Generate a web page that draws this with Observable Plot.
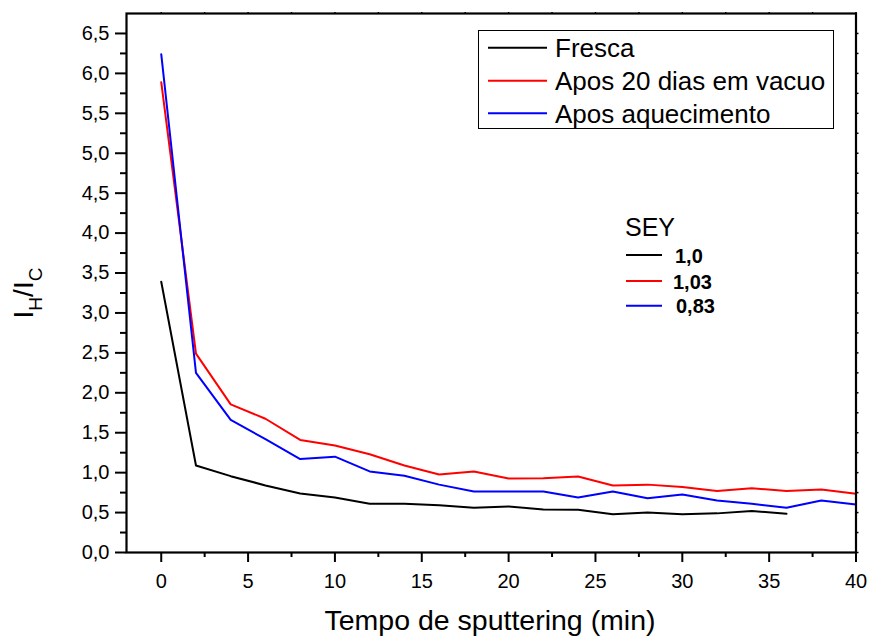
<!DOCTYPE html>
<html><head><meta charset="utf-8">
<script src="https://cdn.jsdelivr.net/npm/d3@7"></script>
<script src="https://cdn.jsdelivr.net/npm/@observablehq/plot@0.6"></script>
<style>body{margin:0;background:#fff} svg{display:block}</style>
</head><body><div id="chart"></div>
<script>
// Sputtering time (min)
const time = [0,2,4,6,8,10,12,14,16,18,20,22,24,26,28,30,32,34,36,38,40];
// I_H / I_C for each sample
const fresca = [3.39,1.09,0.956,0.84,0.74,0.69,0.61,0.61,0.593,0.56,0.576,0.54,0.535,0.48,0.50,0.48,0.49,0.52,0.485];
const vacuo  = [5.89,2.49,1.855,1.675,1.41,1.34,1.23,1.09,0.977,1.015,0.927,0.93,0.952,0.84,0.85,0.82,0.77,0.806,0.77,0.79,0.735];
const aquec  = [6.24,2.25,1.66,1.42,1.17,1.20,1.015,0.96,0.85,0.764,0.764,0.764,0.69,0.764,0.68,0.727,0.65,0.61,0.56,0.65,0.60];
const seriesNames = ["Fresca", "Apos 20 dias em vacuo", "Apos aquecimento"];
const seriesColors = ["#000000", "#ff0000", "#0000ff"];
const seyValues = ["1,0", "1,03", "0,83"];
const yTicks = d3.range(0, 6.51, 0.5);
const yMinor = d3.range(0.25, 6.75, 0.5);
const xTicks = d3.range(0, 40.1, 5);
const xMinor = d3.range(2.5, 40, 5);

const fmt = d => d.toFixed(1).replace(".", ",");
const toRows = (arr, name) => arr.map((v, i) => ({t: time[i], v, series: name}));
const rows = [
  ...toRows(fresca, seriesNames[0]),
  ...toRows(vacuo, seriesNames[1]),
  ...toRows(aquec, seriesNames[2])
];
const font = "'Liberation Sans', Arial, sans-serif";
const none = () => "";

const W = 869, H = 639;
const chart = Plot.plot({
  width: W, height: H,
  marginLeft: 126, marginRight: 13.5, marginTop: 13, marginBottom: 87,
  style: {fontFamily: font, fontSize: "20px", color: "black", background: "white"},
  x: {domain: [-2, 40], label: null},
  y: {domain: [0, 6.75], label: null},
  color: {domain: seriesNames, range: seriesColors},
  marks: [
    Plot.axisX({ticks: xTicks, tickSize: 10, tickPadding: 11, strokeWidth: 2, fontSize: 20, label: null}),
    Plot.axisX({ticks: xMinor, tickSize: 5, strokeWidth: 2, tickFormat: none, label: null}),
    Plot.axisX({anchor: "top", ticks: d3.range(0, 40.1, 2.5), tickSize: 2, strokeWidth: 1.5, tickFormat: none, label: null}),
    Plot.axisY({ticks: yTicks, tickSize: 11, tickPadding: 6, strokeWidth: 2, tickFormat: fmt, fontSize: 20, label: null}),
    Plot.axisY({ticks: yMinor, tickSize: 6, strokeWidth: 2, tickFormat: none, label: null}),
    Plot.axisY({anchor: "right", ticks: d3.range(0, 6.75, 0.25), tickSize: 2, strokeWidth: 1.5, tickFormat: none, label: null}),
    Plot.line(rows, {x: "t", y: "v", z: "series", stroke: "series", strokeWidth: 2}),
    Plot.frame({stroke: "black", strokeWidth: 2.2})
  ]
});
document.getElementById("chart").appendChild(chart);

const svg = d3.select(chart);
// Axis titles
svg.append("text")
  .attr("x", 490).attr("y", 630)
  .attr("text-anchor", "middle")
  .style("font-family", font).style("font-size", "28.5px")
  .attr("fill", "black")
  .text("Tempo de sputtering (min)");

const yl = svg.append("text")
  .attr("transform", "translate(33,293) rotate(-90)")
  .attr("text-anchor", "middle")
  .style("font-family", font).style("font-size", "28px")
  .attr("fill", "black");
yl.append("tspan").text("I");
yl.append("tspan").attr("dy", 9).style("font-size", "19px").text("H");
yl.append("tspan").attr("dy", -9).text("/I");
yl.append("tspan").attr("dy", 9).style("font-size", "19px").text("C");

// Series legend box
const lg = svg.append("g").attr("text-anchor", "start");
lg.append("rect").attr("x", 478.5).attr("y", 30.5).attr("width", 355).attr("height", 98)
  .attr("fill", "white").attr("stroke", "black").attr("stroke-width", 1);
const rowY = [47.7, 80.7, 113.3];
seriesNames.forEach((name, i) => {
  lg.append("line").attr("x1", 488).attr("x2", 547).attr("y1", rowY[i]).attr("y2", rowY[i])
    .attr("stroke", seriesColors[i]).attr("stroke-width", 2);
  lg.append("text").attr("x", 555).attr("y", rowY[i] + 9.3).attr("text-anchor", "start")
    .style("font-family", font).style("font-size", "26px").attr("fill", "black")
    .text(name);
});

// SEY annotation
const sg = svg.append("g").attr("text-anchor", "start");
sg.append("text").attr("x", 625).attr("y", 236).attr("text-anchor", "start")
  .style("font-family", font).style("font-size", "25px").attr("fill", "black").text("SEY");
const seyY = [255, 281, 305.7];
const seyX = [675, 673, 676];
seyValues.forEach((v, i) => {
  sg.append("line").attr("x1", 626).attr("x2", 662).attr("y1", seyY[i]).attr("y2", seyY[i])
    .attr("stroke", seriesColors[i]).attr("stroke-width", 2);
  sg.append("text").attr("x", seyX[i]).attr("y", seyY[i] + 7.5).attr("text-anchor", "start")
    .style("font-family", font).style("font-size", "20px").style("font-weight", "bold")
    .attr("fill", "black").text(v);
});
</script>
</body></html>
